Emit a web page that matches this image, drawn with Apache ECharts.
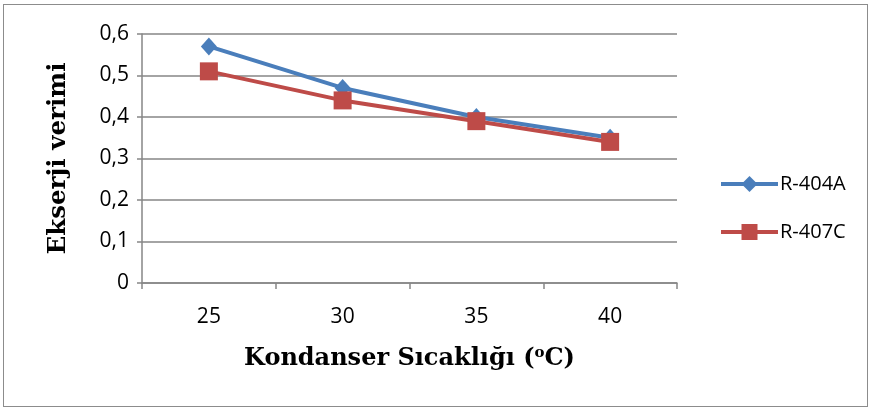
<!DOCTYPE html>
<html>
<head>
<meta charset="utf-8">
<script src="https://cdn.jsdelivr.net/npm/echarts@6/dist/echarts.min.js"></script>
<style>
  html, body { margin: 0; padding: 0; background: #fff; }
  #chart { position: absolute; left: 3px; top: 4px; width: 865px; height: 403px; border: 1.5px solid #8c8c8c; box-sizing: border-box; }
</style>
</head>
<body>
<div id="chart"></div>
<script>
// Kondanser sıcaklığı (°C)
var categories = ["25", "30", "35", "40"];
var r404a = [0.57, 0.47, 0.40, 0.35];
var r407c = [0.51, 0.44, 0.39, 0.34];
var seriesNames = ["R-404A", "R-407C"];

var myChart = echarts.init(document.getElementById("chart"));
var axisGray = "#868686";
var titleFont = "DejaVu Serif";
var option = {
  animation: false,
  grid: { left: 138, top: 29, right: 190, bottom: 123 },
  legend: {
    orient: "vertical",
    left: 710,
    top: 164,
    itemWidth: 57,
    itemHeight: 20,
    itemGap: 28,
    lineStyle: { width: 4 },
    data: seriesNames,
    textStyle: { fontFamily: "Open Sans", fontSize: 20, color: "#000", padding: [0, 0, 0, -3] }
  },
  xAxis: {
    type: "category",
    data: categories,
    boundaryGap: true,
    name: "{a|Kondanser Sıcaklığı (}{s|o}{a|C)}",
    nameLocation: "middle",
    nameGap: 63,
    nameTextStyle: {
      rich: {
        a: { fontFamily: titleFont, fontWeight: "bold", fontSize: 24, color: "#000" },
        s: { fontFamily: titleFont, fontWeight: "bold", fontSize: 15, color: "#000", verticalAlign: "bottom", padding: [0, 0, 10, 0] }
      }
    },
    axisLine: { lineStyle: { color: axisGray, width: 1.5 } },
    axisTick: { show: true, length: 6, lineStyle: { color: axisGray, width: 1.5 } },
    axisLabel: { fontFamily: "Open Sans", fontSize: 21, color: "#000", margin: 24 }
  },
  yAxis: {
    type: "value",
    min: 0,
    max: 0.6,
    interval: 0.1,
    name: "Ekserji verimi",
    nameLocation: "middle",
    nameGap: 71,
    nameTextStyle: { fontFamily: titleFont, fontWeight: "bold", fontSize: 24.5, color: "#000" },
    axisLine: { show: true, lineStyle: { color: axisGray, width: 1.5 } },
    axisTick: { show: true, length: 5, lineStyle: { color: axisGray, width: 1.5 } },
    splitLine: { lineStyle: { color: axisGray, width: 1.5 } },
    axisLabel: {
      fontFamily: "Open Sans", fontSize: 21, color: "#000", margin: 13,
      formatter: function (v) { return v === 0 ? "0" : v.toFixed(1).replace(".", ","); }
    }
  },
  series: [
    {
      name: seriesNames[0],
      type: "line",
      data: r404a,
      symbol: "diamond",
      symbolSize: [16, 18],
      lineStyle: { color: "#4a7ebb", width: 4 },
      itemStyle: { color: "#4a7ebb" }
    },
    {
      name: seriesNames[1],
      type: "line",
      data: r407c,
      symbol: "rect",
      symbolSize: 18,
      lineStyle: { color: "#be4b48", width: 4 },
      itemStyle: { color: "#be4b48" }
    }
  ]
};
myChart.setOption(option);
</script>
</body>
</html>
